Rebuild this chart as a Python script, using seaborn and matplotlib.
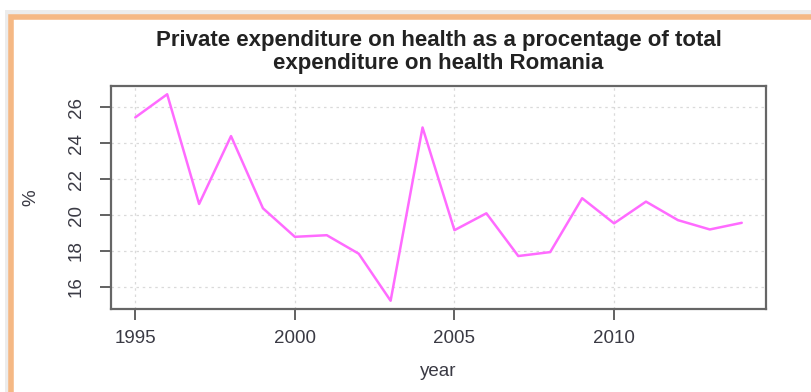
import matplotlib
matplotlib.use("Agg")
import matplotlib.pyplot as plt
from matplotlib.patches import Rectangle
import seaborn as sns
import pandas as pd

years = list(range(1995, 2015))
private_share = [25.44, 26.73, 20.62, 24.40, 20.38, 18.79, 18.88, 17.85, 15.23, 24.88,
                 19.16, 20.10, 17.72, 17.94, 20.94, 19.54, 20.75, 19.72, 19.20, 19.57]
x_ticks = [1995, 2000, 2005, 2010]
y_ticks = [16, 18, 20, 22, 24, 26]
title = "Private expenditure on health as a procentage of total\nexpenditure on health Romania"

df = pd.DataFrame({"year": years, "pct": private_share})

sns.set_theme(style="white")
plt.rcParams["font.family"] = ["Liberation Sans", "DejaVu Sans"]

W, H = 811, 392
fig = plt.figure(figsize=(W / 100, H / 100), dpi=100)
fig.patch.set_facecolor("white")

# framed panel with soft shadow, kept behind the axes
fig.patches.append(Rectangle((5 / W, 0), 1, 1 - 10 / H, transform=fig.transFigure,
                             facecolor="#ececec", edgecolor="none", zorder=-20))
fig.patches.append(Rectangle((11 / W, -0.02), 1, 1 - 17 / H + 0.02, transform=fig.transFigure,
                             facecolor="white", edgecolor="#f5b884", linewidth=4, zorder=-10))

ax = fig.add_axes([111 / W, 1 - 309 / H, (766 - 111) / W, (309 - 86) / H])
ax.set_facecolor("white")
ax.set_zorder(5)

sns.lineplot(data=df, x="year", y="pct", ax=ax, color="#ff6bff", linewidth=1.8)

tick_color = "#3a3a44"
ax.set_xlim(1994.24, 2014.76)
ax.set_ylim(14.77, 27.19)
ax.set_xticks(x_ticks)
ax.set_yticks(y_ticks)
ax.set_xticklabels([str(t) for t in x_ticks], fontsize=13.5, color=tick_color)
ax.set_yticklabels([str(t) for t in y_ticks], fontsize=13.5, color=tick_color,
                   rotation=90, va="center")
ax.tick_params(axis="both", direction="out", length=8, width=1.3, color="#555555",
               bottom=True, left=True)
ax.tick_params(axis="x", pad=7)
ax.tick_params(axis="y", pad=11)

ax.grid(True, color="#dadada", linestyle=(0, (2, 3)), linewidth=0.9)
for s in ax.spines.values():
    s.set_color("#666666")
    s.set_linewidth(1.6)

ax.set_xlabel("year", fontsize=13.5, color=tick_color, labelpad=12)
ax.set_ylabel("%", fontsize=13.5, color=tick_color, labelpad=20)
ax.set_title(title, fontsize=16, fontweight="bold", color="#222222",
             linespacing=1.12, pad=12)

fig.savefig("out.png", dpi=100)
